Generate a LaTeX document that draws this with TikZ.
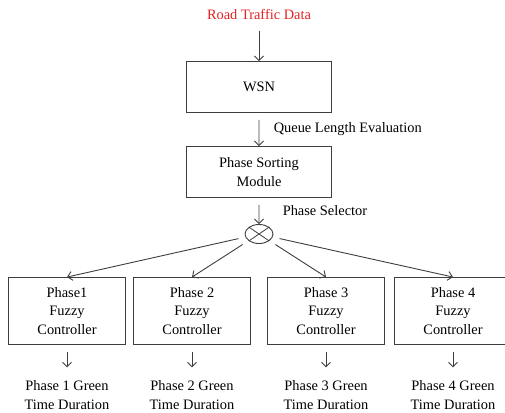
\documentclass[tikz,border=0pt]{standalone}
\usepackage{fontspec}
\setmainfont{Liberation Serif}
\usetikzlibrary{arrows.meta,shapes.geometric}

\definecolor{roadred}{RGB}{228,32,36}
\definecolor{linegray}{RGB}{62,62,62}

\tikzset{
	box/.style={draw=linegray, line width=0.9pt, align=center, inner sep=2pt},
	wide box/.style={box, minimum width=145pt, minimum height=51pt},
	fuzzy box/.style={box, minimum width=117pt, minimum height=67pt},
	selector/.style={ellipse, draw=linegray, line width=0.9pt, inner sep=0pt,
			minimum width=28pt, minimum height=19pt,
			path picture={\draw[linegray, line width=0.8pt]
				(path picture bounding box.north west) -- (path picture bounding box.south east)
				(path picture bounding box.south west) -- (path picture bounding box.north east);}},
	duration/.style={align=center, inner sep=2pt}
}

\begin{document}
\begin{tikzpicture}[
			x=1pt, y=1pt,
			font=\fontsize{14.4}{18.5}\selectfont,
			edge from parent/.style={draw=linegray, line width=0.9pt, -{Straight Barb[length=4.5pt,width=9pt]}},
			level 1/.style={level distance=72pt, edge from parent/.append style={shorten <=7pt}},
			level 2/.style={level distance=85pt},
			level 3/.style={level distance=62pt},
			level 4/.style={level distance=77pt, sibling distance=128pt,
					edge from parent path={(\tikzparentnode) -- (\tikzchildnode.north)}},
			level 5/.style={level distance=84pt,
					edge from parent path={(\tikzparentnode.south) -- (\tikzchildnode.north)},
					edge from parent/.append style={shorten >=11pt}}
		]
		\useasboundingbox (0,0) rectangle (505,-412);
		\node[text=roadred] (traffic) at (259,-15) {Road Traffic Data}
		child {
				node[wide box] (wsn) {WSN}
				child {
						node[wide box] (sorting) {Phase Sorting\\Module}
						child {
								node[selector] (selector) {}
								child {
										node[fuzzy box] (phase1) {Phase1\\Fuzzy\\Controller}
										child {node[duration] (green1) {Phase 1 Green\\Time Duration}}
									}
								child[xshift=-3pt] {
										node[fuzzy box] (phase2) {Phase 2\\Fuzzy\\Controller}
										child {node[duration] (green2) {Phase 2 Green\\Time Duration}}
									}
								child[xshift=3pt] {
										node[fuzzy box] (phase3) {Phase 3\\Fuzzy\\Controller}
										child {node[duration] (green3) {Phase 3 Green\\Time Duration}}
									}
								child[xshift=2pt] {
										node[fuzzy box] (phase4) {Phase 4\\Fuzzy\\Controller}
										child {node[duration] (green4) {Phase 4 Green\\Time Duration}}
									}
								edge from parent node[midway, right, xshift=20pt] {Phase Selector}
							}
						edge from parent node[midway, right, xshift=11pt] {Queue Length Evaluation}
					}
			};
	\end{tikzpicture}
\end{document}
